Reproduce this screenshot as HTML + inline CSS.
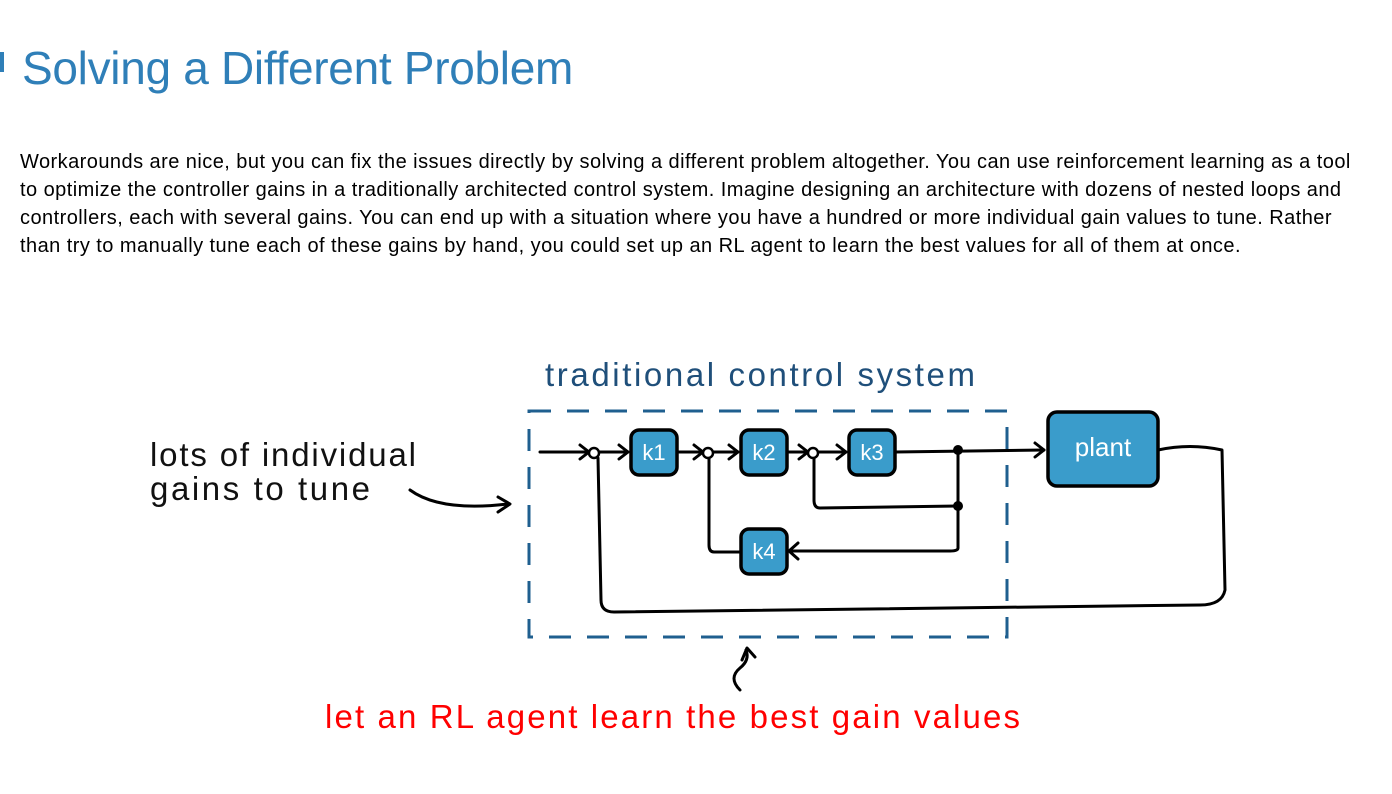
<!DOCTYPE html>
<html><head><meta charset="utf-8"><style>
body{margin:0;width:1392px;height:794px;background:#fff;position:relative;overflow:hidden;font-family:"Liberation Sans",Arial,sans-serif}
h1{position:absolute;left:22px;top:41px;margin:0;font-weight:normal;font-size:46px;color:#2f7fb8;letter-spacing:-0.3px}
.bar{position:absolute;left:0;top:52px;width:4px;height:20px;background:#2f7fb8}
p{position:absolute;left:20px;top:148px;margin:0;font-size:20px;letter-spacing:0.45px;line-height:28px;color:#000;white-space:nowrap}
svg{position:absolute;left:0;top:0}
</style></head><body>
<div class="bar"></div>
<h1>Solving a Different Problem</h1>
<p>Workarounds are nice, but you can fix the issues directly by solving a different problem altogether. You can use reinforcement learning as a tool<br>to optimize the controller gains in a traditionally architected control system. Imagine designing an architecture with dozens of nested loops and<br>controllers, each with several gains. You can end up with a situation where you have a hundred or more individual gain values to tune. Rather<br>than try to manually tune each of these gains by hand, you could set up an RL agent to learn the best values for all of them at once.</p>
<svg width="1392" height="794" viewBox="0 0 1392 794">
<g font-family="'Liberation Sans',sans-serif">
<text x="545" y="386" font-size="33" fill="#1f4f7a" textLength="430">traditional control system</text>
<text x="150" y="466" font-size="33" fill="#111" textLength="266">lots of individual</text>
<text x="150" y="500" font-size="33" fill="#111" textLength="220">gains to tune</text>
<text x="325" y="728" font-size="33" fill="#f00" textLength="695">let an RL agent learn the best gain values</text>
</g>
<rect x="529" y="411" width="478" height="226" fill="none" stroke="#1f5f8f" stroke-width="3" stroke-dasharray="22,16"/>
<g fill="none" stroke="#000" stroke-width="3" stroke-linecap="round" stroke-linejoin="round">
<path d="M410 490 Q440 512 508 504"/><path d="M498 497 L510 504 L498 512"/>
<path d="M540 452 L589 452"/><path d="M580 445 L589 452 L580 459"/>
<path d="M599 452 L628 452"/><path d="M619 445 L628 452 L619 459"/>
<path d="M677 452 L703 452"/><path d="M694 445 L703 452 L694 459"/>
<path d="M713 452 L738 452"/><path d="M729 445 L738 452 L729 459"/>
<path d="M787 452 L808 452"/><path d="M799 445 L808 452 L799 459"/>
<path d="M818 452 L846 452"/><path d="M837 445 L846 452 L837 459"/>
<path d="M895 452 L1044 450"/><path d="M1035 443 L1044 450 L1035 457"/>
<path d="M958 450 L958 548 Q958 551 950 551 L790 551"/><path d="M798 543 L789 551 L798 559"/>
<path d="M958 506 L820 508 Q814 508 814 500 L814 458"/>
<path d="M740 552 L714 552 Q709 552 709 545 L709 458"/>
<path d="M1158 450 Q1190 443 1222 450 L1225 590 Q1222 605 1200 605 L614 612 Q601 612 601 600 L598 458"/>
<path d="M740 690 Q728 678 740 668 Q750 660 746 650"/><path d="M742 660 L747 648 L755 657"/>
</g>
<g fill="#fff" stroke="#000" stroke-width="2.5"><circle cx="594" cy="453" r="5"/><circle cx="708" cy="453" r="5"/><circle cx="813" cy="453" r="5"/></g>
<circle cx="958" cy="450" r="5"/><circle cx="958" cy="506" r="5"/>
<g fill="#3a9ccb" stroke="#000" stroke-width="3.5">
<rect x="631" y="430" width="46" height="45" rx="8"/>
<rect x="741" y="430" width="46" height="45" rx="8"/>
<rect x="849" y="430" width="46" height="45" rx="8"/>
<rect x="741" y="529" width="46" height="45" rx="8"/>
<rect x="1048" y="412" width="110" height="74" rx="9"/>
</g>
<g fill="#fff" font-family="'Liberation Sans',sans-serif" font-size="22" text-anchor="middle">
<text x="654" y="460">k1</text><text x="764" y="460">k2</text><text x="872" y="460">k3</text><text x="764" y="559">k4</text>
<text x="1103" y="456" font-size="26">plant</text>
</g>
</svg>
</body></html>
